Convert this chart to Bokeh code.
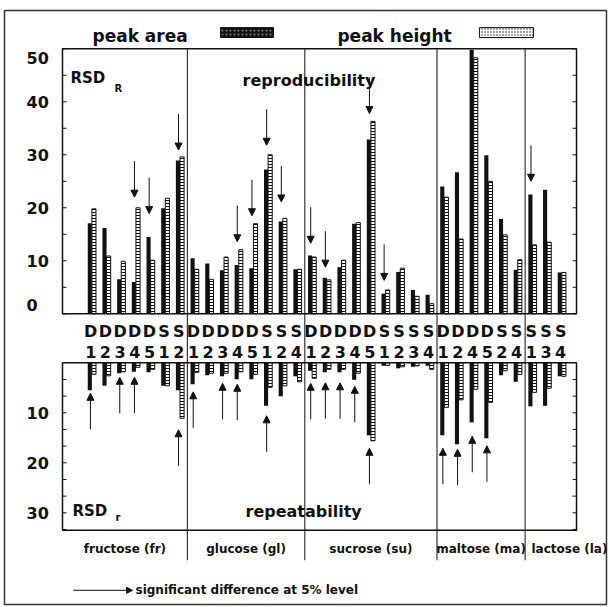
import numpy as np
from bokeh.plotting import figure
from bokeh.models import Range1d, ColumnDataSource, Arrow, NormalHead
from bokeh.core.properties import value
from bokeh.embed import file_html
from bokeh.resources import INLINE

# ---------------- data ----------------
sugars = ["fructose (fr)", "glucose (gl)", "sucrose (su)", "maltose (ma)", "lactose (la)"]
sugar_abbr = ["fr", "gl", "su", "ma", "la"]
codes_fr = ["D1", "D2", "D3", "D4", "D5", "S1", "S2"]
codes_gl = ["D1", "D2", "D3", "D4", "D5", "S1", "S2", "S4"]
codes_su = ["D1", "D2", "D3", "D4", "D5", "S1", "S2", "S3", "S4"]
codes_ma = ["D1", "D2", "D4", "D5", "S2", "S4"]
codes_la = ["S1", "S3", "S4"]

# reproducibility RSD_R (%) in the order fr, gl, su, ma, la
rsd_R_area = [17.1, 16.2, 6.5, 6.0, 14.5, 19.9, 28.9,
              10.5, 9.5, 8.2, 9.2, 8.6, 27.2, 17.4, 8.4,
              11.0, 6.8, 8.8, 17.0, 32.9, 3.8, 7.9, 4.5, 3.6,
              24.0, 26.7, 49.8, 29.9, 17.9, 8.3,
              22.5, 23.4, 7.8]
rsd_R_height = [19.8, 10.9, 9.9, 20.0, 10.1, 21.8, 29.6,
                8.4, 6.5, 10.7, 12.1, 17.0, 30.0, 18.0, 8.4,
                10.7, 6.4, 10.1, 17.2, 36.3, 4.5, 8.6, 3.3, 1.9,
                22.0, 14.1, 48.3, 25.0, 14.9, 10.2,
                13.0, 13.5, 7.8]
# repeatability RSD_r (%)
rsd_r_area = [5.5, 4.6, 2.1, 1.8, 1.9, 4.6, 5.5,
              4.3, 2.5, 2.7, 3.3, 3.3, 8.6, 6.7, 2.7,
              1.6, 1.9, 1.9, 3.4, 14.5, 0.6, 1.1, 0.8, 0.6,
              14.5, 16.3, 11.9, 15.1, 2.5, 3.8,
              8.7, 8.6, 2.7]
rsd_r_height = [2.3, 2.6, 1.8, 0.9, 1.3, 4.6, 11.1,
                1.9, 2.1, 2.1, 1.8, 2.3, 4.9, 4.6, 3.8,
                3.1, 1.3, 1.3, 2.1, 15.6, 0.5, 0.8, 0.6, 1.3,
                8.9, 7.4, 5.3, 7.9, 1.6, 2.3,
                5.9, 5.1, 2.7]

# significant area/height differences (5 % level) and the level each arrow points to
sig_R_keys = ["fr D4", "fr D5", "fr S2", "gl D4", "gl D5", "gl S1", "gl S2",
              "su D1", "su D2", "su D5", "su S1", "la S1"]
sig_R_tip = [22.0, 18.9, 30.9, 13.6, 18.5, 31.8, 21.1, 13.3, 8.8, 37.8, 6.3, 25.0]
sig_r_keys = ["fr D1", "fr D3", "fr D4", "fr S2", "gl D1", "gl D3", "gl D4", "gl S1",
              "su D1", "su D2", "su D3", "su D4", "su D5", "ma D1", "ma D2", "ma D4", "ma D5"]
sig_r_tip = [6.1, 2.9, 2.9, 13.4, 5.8, 4.1, 4.3, 10.6,
             4.1, 4.0, 4.0, 4.7, 17.1, 17.1, 17.3, 14.7, 16.6]

R_tick_labels = [0, 10, 20, 30, 40, 50]
r_tick_labels = [10, 20, 30]

# ---------------- layout of groups ----------------
code_lists = [codes_fr, codes_gl, codes_su, codes_ma, codes_la]
keys, codes, xs, seg = [], [], [], []
pos = 0
for a, cl in zip(sugar_abbr, code_lists):
    start = pos
    for c in cl:
        keys.append(f"{a} {c}")
        codes.append(c)
        xs.append(pos)
        pos += 1
    seg.append([start - 0.5, pos - 0.5])
xs = np.array(xs, dtype=float)
XL, XR = -2.0, float(pos)          # panel edges
seg[0][0], seg[-1][1] = XL, XR
R_TOP = 50.0                       # top panel 0..50
r_BOT = 33.5                       # bottom panel 0..33.5 (downwards)

FONT = value("DejaVu Sans")
BLACK = "#111111"

p = figure(width=609, height=607, x_range=Range1d(-6.222, 35.246),
           y_range=Range1d(-55.42, 59.11), output_backend="svg",
           toolbar_location=None, x_axis_type=None, y_axis_type=None, min_border=0)
p.extra_y_ranges = {"rep": Range1d(48.94, -72.46)}
p.outline_line_color = None
p.background_fill_color = "white"
p.border_fill_color = "white"

# outer frame
p.quad(left=[-5.95], right=[35.04], top=[57.23], bottom=[-54.85],
       fill_color=None, line_color="#333333", line_width=1.5)

BW = 0.28
hatch = dict(fill_color="white", line_color=BLACK, line_width=1,
             hatch_pattern="horizontal_line", hatch_scale=3, hatch_weight=1,
             hatch_color=BLACK)

# ---- top panel: reproducibility ----
p.quad(left=xs - BW, right=xs, top=rsd_R_area, bottom=0, fill_color=BLACK, line_color=None)
p.quad(left=xs, right=xs + BW, top=rsd_R_height, bottom=0, **hatch)
p.quad(left=[XL], right=[XR], top=[R_TOP], bottom=[0], fill_color=None,
       line_color=BLACK, line_width=1.5)

# ---- bottom panel: repeatability (drawn downwards) ----
p.quad(left=xs - BW, right=xs, top=0, bottom=rsd_r_area, fill_color=BLACK,
       line_color=None, y_range_name="rep")
p.quad(left=xs, right=xs + BW, top=0, bottom=rsd_r_height, y_range_name="rep", **hatch)
p.quad(left=[XL], right=[XR], top=[0], bottom=[r_BOT], fill_color=None,
       line_color=BLACK, line_width=1.5, y_range_name="rep")

# ticks (inward, both sides)
TL = 0.27
R_minor = np.arange(0, R_TOP + 0.1, 5)
p.segment(x0=XL, y0=R_minor, x1=XL + TL, y1=R_minor, line_color=BLACK, line_width=1)
p.segment(x0=XR - TL, y0=R_minor, x1=XR, y1=R_minor, line_color=BLACK, line_width=1)
r_minor = np.arange(1, 11) * 10 / 3
p.segment(x0=XL, y0=r_minor, x1=XL + TL, y1=r_minor, line_color=BLACK, line_width=1,
          y_range_name="rep")
p.segment(x0=XR - TL, y0=r_minor, x1=XR, y1=r_minor, line_color=BLACK, line_width=1,
          y_range_name="rep")

# tick labels
lab_x = -4.45
p.text(x=lab_x, y=[min(max(v, 1.6), 48.2) for v in R_tick_labels],
       text=[str(v) for v in R_tick_labels], text_font=FONT, text_font_style="bold",
       text_font_size="16px", text_align="left", text_baseline="middle", text_color=BLACK)
p.text(x=lab_x, y=r_tick_labels, text=[str(v) for v in r_tick_labels], text_font=FONT,
       text_font_style="bold", text_font_size="16px", text_align="left",
       text_baseline="middle", text_color=BLACK, y_range_name="rep")

# category separators
bnd = [s[1] for s in seg[:-1]]
p.segment(x0=bnd, y0=R_TOP, x1=bnd, y1=-9.25, line_color=BLACK, line_width=1)
p.segment(x0=bnd, y0=0, x1=bnd, y1=39.5, line_color=BLACK, line_width=1, y_range_name="rep")

# lab codes between the panels
p.text(x=xs - 0.08, y=-3.3, text=[c[0] for c in codes], text_font=FONT,
       text_font_style="bold", text_font_size="16px", text_align="center",
       text_baseline="middle", text_color=BLACK)
p.text(x=xs - 0.08, y=-7.2, text=[c[1] for c in codes], text_font=FONT,
       text_font_style="bold", text_font_size="16px", text_align="center",
       text_baseline="middle", text_color=BLACK)

# sugar names under the lower panel
cx = [(s[0] + s[1]) / 2 for s in seg[:-1]]
p.text(x=cx, y=37.3, text=sugars[:-1], text_font=FONT, text_font_style="bold",
       text_font_size="12px", text_align="center", text_baseline="middle",
       text_color=BLACK, y_range_name="rep")
p.text(x=[seg[-1][0] + 0.43], y=37.3, text=[sugars[-1]], text_font=FONT,
       text_font_style="bold", text_font_size="12px", text_align="left",
       text_baseline="middle", text_color=BLACK, y_range_name="rep")

# panel titles
txt = dict(text_font=FONT, text_font_style="bold", text_align="left",
           text_baseline="alphabetic", text_color=BLACK)
p.text(x=[-1.455], y=[44.4], text=["RSD"], text_font_size="15px", **txt)
p.text(x=[1.54], y=[42.5], text=["R"], text_font_size="10px", **txt)
p.text(x=[10.26], y=[44.0], text=["reproducibility"], text_font_size="16px", **txt)
p.text(x=[-1.32], y=[29.6], text=["RSD"], text_font_size="15px", y_range_name="rep", **txt)
p.text(x=[1.61], y=[30.9], text=["r"], text_font_size="10px", y_range_name="rep", **txt)
p.text(x=[10.46], y=[29.7], text=["repeatability"], text_font_size="16px",
       y_range_name="rep", **txt)

# significance arrows
xi = {k: x for k, x in zip(keys, xs)}
ax_R = np.array([xi[k] for k in sig_R_keys]) - 0.1
src_R = ColumnDataSource(dict(x=ax_R, ys=np.array(sig_R_tip) + 6.8, ye=sig_R_tip))
p.add_layout(Arrow(end=NormalHead(size=7, fill_color=BLACK, line_color=BLACK),
                   x_start="x", y_start="ys", x_end="x", y_end="ye", source=src_R,
                   line_color=BLACK, line_width=1))
ax_r = np.array([xi[k] for k in sig_r_keys]) - 0.1
src_r = ColumnDataSource(dict(x=ax_r, ys=np.array(sig_r_tip) + 7.2, ye=sig_r_tip))
p.add_layout(Arrow(end=NormalHead(size=7, fill_color=BLACK, line_color=BLACK),
                   x_start="x", y_start="ys", x_end="x", y_end="ye", source=src_r,
                   line_color=BLACK, line_width=1, y_range_name="rep"))

# legend: bar types
p.text(x=[0.04], y=[52.5], text=["peak area"], text_font_size="17px", **txt)
p.quad(left=[8.76], right=[12.37], top=[54.0], bottom=[52.13], fill_color=BLACK,
       line_color=BLACK, hatch_pattern="dot", hatch_color="#777777", hatch_scale=4)
p.text(x=[16.72], y=[52.5], text=["peak height"], text_font_size="17px", **txt)
p.quad(left=[26.39], right=[30.07], top=[54.0], bottom=[52.13], fill_color="white",
       line_color=BLACK, line_width=1, hatch_pattern="dot", hatch_color=BLACK,
       hatch_scale=3)

# legend: arrow meaning
p.add_layout(Arrow(end=NormalHead(size=6, fill_color=BLACK, line_color=BLACK),
                   x_start=-1.25, y_start=45.5, x_end=2.77, y_end=45.5,
                   line_color=BLACK, line_width=1, y_range_name="rep"))
p.text(x=[2.97], y=[45.5], text=["significant difference at 5% level"], text_font=FONT,
       text_font_style="bold", text_font_size="12px", text_align="left",
       text_baseline="middle", text_color=BLACK, y_range_name="rep")

open("out.html", "w").write(file_html(p, INLINE))
